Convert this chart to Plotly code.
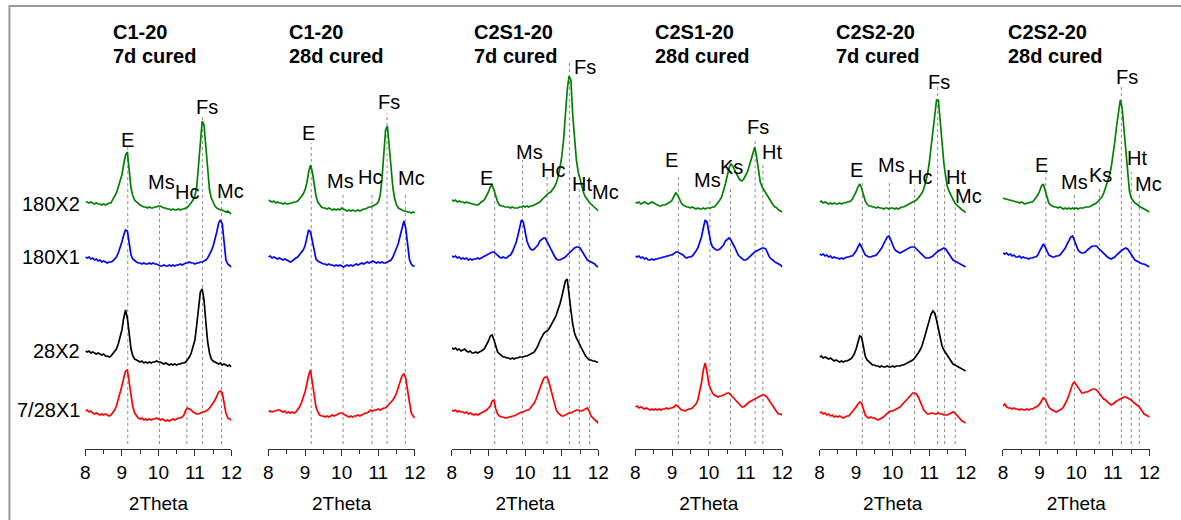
import numpy as np
import plotly.graph_objects as go

# ---------------------------------------------------------------------------
# Data: XRD intensities (arbitrary counts above a common baseline) sampled every
# 0.05 deg 2-theta between 8 and 12 deg, for each binder / curing age / sample.
# ---------------------------------------------------------------------------
TWO_THETA = np.round(np.arange(8.0, 12.0001, 0.05), 2)

ROWS = ["180X2", "180X1", "28X2", "7/28X1"]

TITLE_MIX = ["C1-20", "C1-20", "C2S1-20", "C2S1-20", "C2S2-20", "C2S2-20"]
TITLE_AGE = ["7d cured", "28d cured", "7d cured", "28d cured", "7d cured", "28d cured"]

# ---- C1-20, 7d cured
C1_7D_180X2 = [17, 17, 16, 17, 16, 15, 16, 15, 15, 14,
               15, 14, 15, 16, 16, 19, 22, 26, 32, 39,
               44, 55, 64, 67, 50, 31, 23, 19, 17, 15,
               14, 13, 12, 12, 11, 12, 11, 11, 12, 12,
               13, 13, 12, 11, 11, 10, 10, 9, 10, 9,
               9, 10, 9, 10, 10, 11, 12, 14, 16, 19,
               23, 32, 54, 79, 98, 94, 71, 47, 29, 21,
               16, 13, 11, 10, 9, 9, 8, 7, 8, 6,
               5]
C1_7D_180X1 = [17, 16, 17, 15, 16, 14, 15, 13, 14, 12,
               13, 12, 11, 12, 12, 13, 15, 17, 21, 26,
               32, 39, 44, 43, 29, 19, 15, 13, 12, 11,
               11, 10, 11, 10, 10, 11, 10, 11, 10, 10,
               9, 8, 8, 9, 8, 8, 9, 8, 9, 8,
               9, 9, 10, 9, 10, 11, 11, 12, 11, 11,
               10, 11, 11, 12, 12, 13, 14, 16, 19, 23,
               28, 34, 42, 51, 54, 50, 30, 14, 10, 8,
               7]
C1_7D_28X2 = [28, 27, 28, 26, 27, 26, 25, 26, 25, 24,
              25, 23, 23, 22, 23, 25, 27, 30, 35, 41,
              49, 61, 69, 61, 44, 30, 23, 20, 19, 18,
              17, 18, 16, 17, 16, 17, 16, 17, 17, 18,
              17, 17, 16, 15, 16, 15, 14, 15, 14, 15,
              14, 15, 15, 16, 16, 17, 19, 22, 26, 32,
              39, 54, 74, 87, 90, 79, 57, 37, 26, 20,
              18, 17, 16, 15, 16, 14, 15, 14, 13, 14,
              12]
C1_7D_728X1 = [18, 19, 17, 18, 16, 15, 16, 15, 14, 15,
               14, 15, 14, 13, 14, 16, 19, 23, 29, 36,
               43, 51, 58, 59, 47, 33, 22, 16, 13, 11,
               10, 11, 9, 10, 9, 10, 9, 10, 10, 11,
               10, 9, 10, 9, 8, 9, 8, 9, 10, 9,
               10, 11, 11, 12, 14, 19, 21, 20, 19, 17,
               16, 15, 15, 16, 17, 17, 18, 19, 21, 23,
               26, 29, 33, 37, 38, 36, 26, 16, 11, 10,
               9]

# ---- C1-20, 28d cured
C1_28D_180X2 = [19, 18, 17, 18, 16, 17, 16, 16, 15, 16,
                15, 15, 16, 16, 17, 17, 18, 20, 22, 25,
                29, 36, 47, 54, 47, 33, 23, 17, 14, 12,
                11, 11, 10, 11, 10, 9, 10, 9, 10, 9,
                11, 10, 9, 8, 9, 8, 9, 8, 8, 9,
                8, 9, 10, 10, 11, 12, 12, 13, 14, 15,
                17, 23, 39, 64, 89, 93, 74, 51, 31, 20,
                14, 11, 10, 9, 8, 8, 7, 7, 6, 7,
                6]
C1_28D_180X1 = [17, 18, 16, 17, 16, 15, 16, 15, 14, 15,
                14, 13, 12, 13, 15, 16, 17, 19, 21, 24,
                28, 36, 44, 42, 32, 21, 15, 13, 12, 11,
                10, 10, 9, 10, 9, 9, 8, 9, 8, 9,
                8, 7, 8, 9, 8, 9, 8, 9, 10, 9,
                10, 11, 10, 11, 12, 11, 12, 13, 12, 11,
                12, 11, 12, 11, 11, 12, 13, 14, 17, 21,
                26, 31, 38, 47, 53, 46, 30, 15, 10, 8,
                8]
C1_28D_728X1 = [17, 18, 17, 18, 18, 19, 19, 18, 17, 18,
                16, 17, 16, 17, 16, 17, 19, 22, 26, 31,
                37, 45, 54, 59, 48, 33, 22, 17, 14, 13,
                13, 12, 13, 12, 13, 14, 13, 14, 15, 16,
                16, 15, 14, 13, 12, 13, 12, 13, 13, 14,
                13, 14, 15, 16, 16, 18, 19, 18, 19, 19,
                20, 19, 20, 21, 21, 23, 24, 26, 29, 32,
                36, 42, 48, 53, 55, 51, 39, 25, 16, 13,
                11]

# ---- C2S1-20, 7d cured
C2S1_7D_180X2 = [19, 18, 19, 17, 18, 17, 17, 16, 17, 16,
                 16, 15, 15, 14, 14, 15, 17, 18, 20, 23,
                 27, 32, 34, 29, 22, 17, 14, 13, 13, 12,
                 12, 12, 11, 12, 11, 11, 11, 12, 12, 13,
                 12, 13, 12, 13, 13, 14, 15, 16, 17, 19,
                 21, 23, 24, 26, 27, 29, 32, 36, 42, 51,
                 62, 79, 104, 129, 143, 139, 104, 79, 59, 47,
                 39, 32, 26, 22, 19, 17, 15, 13, 11, 9,
                 8]
C2S1_7D_180X1 = [18, 17, 18, 16, 17, 15, 16, 15, 16, 14,
                 15, 14, 15, 15, 16, 15, 16, 17, 18, 19,
                 20, 21, 22, 22, 20, 18, 17, 16, 17, 16,
                 16, 18, 19, 22, 26, 31, 38, 47, 54, 52,
                 41, 33, 28, 25, 24, 25, 27, 29, 33, 35,
                 36, 36, 33, 29, 25, 21, 18, 15, 14, 14,
                 15, 16, 17, 19, 21, 23, 24, 26, 27, 27,
                 26, 23, 20, 17, 14, 13, 12, 11, 10, 8,
                 7]
C2S1_7D_28X2 = [31, 30, 31, 29, 30, 28, 29, 30, 28, 27,
                28, 26, 26, 27, 26, 27, 28, 29, 31, 34,
                38, 43, 44, 39, 32, 27, 25, 23, 22, 22,
                21, 21, 20, 21, 20, 21, 21, 22, 22, 22,
                23, 23, 24, 25, 26, 27, 30, 33, 38, 42,
                45, 47, 48, 50, 53, 56, 60, 64, 69, 75,
                82, 90, 98, 100, 87, 69, 55, 46, 41, 38,
                34, 30, 26, 23, 21, 19, 19, 18, 18, 17,
                17]
C2S1_7D_728X1 = [19, 18, 19, 17, 18, 17, 17, 16, 17, 15,
                 16, 15, 14, 15, 14, 15, 16, 17, 18, 19,
                 21, 23, 28, 29, 20, 15, 13, 12, 12, 11,
                 11, 12, 12, 13, 13, 14, 15, 16, 17, 17,
                 18, 19, 19, 21, 23, 26, 30, 35, 41, 46,
                 50, 52, 52, 47, 40, 32, 25, 19, 16, 14,
                 13, 13, 14, 15, 16, 16, 17, 18, 19, 19,
                 18, 18, 19, 20, 21, 18, 13, 11, 9, 8,
                 6]

# ---- C2S1-20, 28d cured
C2S1_28D_180X2 = [17, 16, 17, 15, 16, 17, 16, 15, 16, 17,
                  16, 15, 14, 13, 13, 14, 14, 15, 16, 17,
                  19, 22, 26, 24, 19, 16, 14, 13, 12, 12,
                  11, 12, 11, 10, 11, 10, 10, 11, 10, 11,
                  11, 11, 12, 12, 14, 16, 19, 22, 28, 35,
                  43, 51, 55, 53, 49, 45, 42, 39, 38, 40,
                  43, 47, 53, 60, 67, 72, 62, 47, 37, 32,
                  29, 25, 22, 19, 16, 14, 12, 11, 9, 8,
                  7]
C2S1_28D_180X1 = [18, 17, 18, 16, 17, 15, 16, 14, 14, 15,
                  14, 15, 15, 16, 16, 17, 17, 18, 18, 19,
                  19, 21, 22, 22, 21, 20, 19, 17, 16, 17,
                  17, 18, 20, 23, 26, 31, 37, 46, 54, 52,
                  41, 32, 27, 25, 24, 24, 25, 27, 29, 33,
                  35, 36, 34, 31, 27, 23, 19, 17, 15, 14,
                  14, 15, 17, 19, 20, 22, 23, 24, 25, 26,
                  26, 25, 21, 17, 15, 13, 12, 11, 10, 9,
                  7]
C2S1_28D_728X1 = [22, 23, 21, 22, 21, 20, 21, 20, 19, 20,
                  19, 20, 19, 20, 19, 20, 20, 21, 20, 21,
                  21, 22, 24, 23, 21, 19, 19, 18, 19, 20,
                  20, 21, 23, 25, 29, 36, 46, 59, 66, 57,
                  45, 40, 36, 34, 33, 32, 33, 33, 34, 35,
                  36, 36, 34, 32, 30, 27, 25, 23, 22, 22,
                  24, 26, 27, 28, 29, 30, 31, 32, 33, 34,
                  34, 33, 31, 28, 25, 22, 19, 17, 15, 15,
                  14]

# ---- C2S2-20, 7d cured
C2S2_7D_180X2 = [17, 18, 16, 17, 16, 15, 16, 15, 16, 15,
                 15, 16, 15, 16, 16, 17, 17, 18, 20, 23,
                 27, 32, 35, 31, 24, 18, 15, 13, 13, 12,
                 12, 11, 12, 11, 11, 10, 11, 11, 10, 11,
                 11, 10, 11, 10, 11, 12, 12, 13, 14, 15,
                 16, 17, 18, 19, 21, 23, 26, 30, 36, 44,
                 56, 71, 89, 107, 119, 119, 97, 74, 56, 42,
                 32, 27, 23, 19, 16, 14, 12, 11, 9, 8,
                 6]
C2S2_7D_180X1 = [20, 19, 20, 18, 19, 17, 18, 16, 17, 16,
                 16, 15, 16, 15, 16, 17, 17, 18, 18, 20,
                 23, 27, 30, 27, 22, 19, 18, 17, 17, 18,
                 18, 19, 21, 23, 26, 30, 34, 37, 38, 34,
                 29, 25, 23, 22, 21, 22, 23, 24, 25, 26,
                 27, 27, 27, 25, 23, 21, 19, 17, 16, 16,
                 16, 17, 18, 20, 22, 23, 24, 25, 26, 25,
                 22, 19, 16, 14, 13, 12, 11, 10, 9, 8,
                 7]
C2S2_7D_28X2 = [22, 23, 21, 22, 21, 20, 21, 19, 18, 19,
                18, 17, 18, 17, 18, 18, 19, 20, 22, 25,
                30, 37, 43, 42, 32, 23, 19, 17, 15, 14,
                14, 13, 13, 12, 13, 12, 12, 13, 12, 12,
                13, 12, 13, 13, 13, 14, 14, 15, 16, 17,
                18, 19, 21, 23, 26, 29, 33, 39, 46, 53,
                59, 65, 68, 66, 59, 49, 39, 33, 29, 26,
                23, 20, 17, 15, 14, 13, 12, 11, 10, 9,
                8]
C2S2_7D_728X1 = [16, 17, 15, 16, 14, 15, 13, 14, 12, 13,
                 12, 13, 12, 11, 12, 13, 13, 15, 17, 19,
                 22, 25, 27, 26, 19, 14, 12, 11, 12, 11,
                 11, 10, 9, 10, 11, 12, 14, 16, 17, 18,
                 18, 19, 20, 21, 22, 24, 26, 28, 30, 32,
                 34, 36, 36, 35, 32, 28, 23, 19, 17, 15,
                 15, 16, 16, 15, 15, 16, 15, 15, 14, 14,
                 14, 15, 16, 17, 16, 14, 11, 9, 8, 7,
                 6]

# ---- C2S2-20, 28d cured
C2S2_28D_180X2 = [21, 20, 20, 19, 19, 18, 18, 17, 17, 16,
                  17, 16, 15, 16, 16, 17, 17, 19, 21, 24,
                  28, 33, 35, 29, 21, 16, 14, 13, 12, 12,
                  11, 12, 11, 10, 11, 10, 11, 10, 11, 10,
                  11, 10, 11, 11, 11, 12, 12, 12, 13, 14,
                  15, 16, 18, 20, 22, 26, 31, 36, 43, 51,
                  63, 77, 93, 109, 119, 111, 89, 64, 42, 28,
                  21, 18, 16, 15, 13, 12, 11, 10, 9, 8,
                  7]
C2S2_28D_180X1 = [21, 20, 21, 19, 20, 18, 19, 17, 17, 18,
                  16, 17, 16, 16, 15, 16, 16, 17, 17, 19,
                  23, 27, 30, 27, 22, 19, 18, 17, 17, 18,
                  18, 19, 21, 23, 26, 30, 34, 37, 38, 33,
                  27, 24, 22, 21, 21, 22, 24, 26, 27, 28,
                  28, 28, 26, 24, 22, 20, 19, 17, 16, 15,
                  16, 17, 19, 21, 23, 24, 25, 26, 25, 22,
                  19, 16, 14, 13, 12, 11, 10, 10, 9, 8,
                  7]
C2S2_28D_728X1 = [23, 25, 22, 21, 21, 20, 21, 20, 20, 19,
                  20, 19, 19, 20, 19, 20, 20, 21, 22, 23,
                  25, 28, 31, 30, 26, 22, 20, 19, 18, 17,
                  18, 19, 20, 22, 25, 29, 34, 40, 45, 47,
                  44, 41, 38, 36, 36, 37, 37, 38, 39, 40,
                  40, 39, 37, 34, 32, 30, 29, 27, 25, 24,
                  25, 27, 28, 29, 30, 31, 32, 32, 31, 30,
                  29, 27, 25, 24, 23, 20, 17, 15, 14, 13,
                  12]

# curves per panel, in ROWS order (None: not measured)
PANEL_CURVES = [
    [C1_7D_180X2, C1_7D_180X1, C1_7D_28X2, C1_7D_728X1],
    [C1_28D_180X2, C1_28D_180X1, None, C1_28D_728X1],
    [C2S1_7D_180X2, C2S1_7D_180X1, C2S1_7D_28X2, C2S1_7D_728X1],
    [C2S1_28D_180X2, C2S1_28D_180X1, None, C2S1_28D_728X1],
    [C2S2_7D_180X2, C2S2_7D_180X1, C2S2_7D_28X2, C2S2_7D_728X1],
    [C2S2_28D_180X2, C2S2_28D_180X1, None, C2S2_28D_728X1],
]

# phase reflections marked in each panel (2-theta, deg)
PEAK_NAMES = [
    ["E", "Ms", "Hc", "Fs", "Mc"],
    ["E", "Ms", "Hc", "Fs", "Mc"],
    ["E", "Ms", "Hc", "Fs", "Ht", "Mc"],
    ["E", "Ms", "Ks", "Fs", "Ht"],
    ["E", "Ms", "Hc", "Fs", "Ht", "Mc"],
    ["E", "Ms", "Ks", "Fs", "Ht", "Mc"],
]
PEAK_POS = [
    [9.16, 10.03, 10.78, 11.21, 11.73],
    [9.17, 10.04, 10.83, 11.24, 11.74],
    [9.17, 9.93, 10.60, 11.21, 11.48, 11.76],
    [9.17, 10.03, 10.59, 11.26, 11.47],
    [9.17, 9.91, 10.60, 11.23, 11.42, 11.71],
    [9.17, 9.95, 10.63, 11.23, 11.50, 11.72],
]

# ---------------------------------------------------------------------------
# Layout / styling
# ---------------------------------------------------------------------------
W, H = 1181, 520
AXIS_ROW = 449              # pixel row of the 2-theta axes
FONT = "Liberation Sans, Arial, sans-serif"
INK = "#333333"

ROW_OFFSET = [230, 175, 70, 20]
ROW_COLOR = ["#008000", "#0000ff", "#000000", "#ff0000"]
ROW_LABEL_Y = [204, 257, 351, 410]

PANEL_X0 = [81.5, 267.0, 453.0, 639.0, 825.7, 1011.7]
PANEL_X1 = [229.5, 415.5, 601.5, 788.0, 974.0, 1160.3]
TITLE_X = [107, 286, 473, 657, 840, 1015]

# per panel, per marker: (label x in 2-theta, extra shift px, label centre row px,
#                         dotted line top row px)
LABEL_PLACE = [
    [(9.16, 0, 140, 147), (10.08, 0, 182, 202), (10.79, 0, 192, 200),
     (11.32, 0, 107, 117), (11.97, 0, 191, 200)],
    [(9.10, 0, 133, 143), (9.97, 0, 181, 195), (10.78, 0, 177, 195),
     (11.30, 0, 102, 113), (11.91, 0, 178, 193)],
    [(8.94, 0, 178, 190), (10.12, 0, 152, 160), (10.76, 0, 170, 177),
     (11.64, 0, 67, 60), (11.55, 0, 184, 187), (11.99, 8, 192, 198)],
    [(8.99, 0, 160, 175), (9.97, 0, 180, 198), (10.63, 0, 167, 187),
     (11.34, 0, 127, 140), (11.73, 0, 152, 162)],
    [(9.00, 0, 170, 180), (9.98, 0, 165, 180), (10.74, 0, 177, 185),
     (11.26, 0, 82, 87), (11.74, 0, 177, 185), (11.99, 3, 196, 203)],
    [(9.06, 0, 165, 172), (9.96, 0, 182, 195), (10.65, 0, 175, 187),
     (11.39, 0, 77, 85), (11.67, 0, 158, 172), (11.98, 0, 184, 195)],
]
LINE_BOTTOM = 444


def ypx(row):
    """Convert a pixel row into the plot's vertical units (1 unit = 1 px)."""
    return AXIS_ROW - row


fig = go.Figure()
layout = dict(
    width=W, height=H,
    margin=dict(l=0, r=0, t=0, b=0),
    paper_bgcolor="white", plot_bgcolor="white",
    showlegend=False,
    font=dict(family=FONT, color="black"),
)
annotations = []
shapes = []

y_dom = [(H - AXIS_ROW) / H, 1.0]

for p in range(6):
    n = "" if p == 0 else str(p + 1)
    xa, ya = "x" + n, "y" + n

    layout["xaxis" + n] = dict(
        domain=[PANEL_X0[p] / W, PANEL_X1[p] / W],
        range=[8, 12], anchor=ya,
        tickmode="array", tickvals=[8, 9, 10, 11, 12],
        ticks="outside", ticklen=6, tickwidth=1, tickcolor=INK,
        showline=True, linecolor=INK, linewidth=1,
        minor=dict(tickmode="array", tickvals=[8.5, 9.5, 10.5, 11.5],
                   ticks="outside", ticklen=4, tickwidth=1, tickcolor=INK,
                   showgrid=False),
        tickfont=dict(size=19, family=FONT, color="black"),
        ticklabelstandoff=0,
        showgrid=False, zeroline=False, fixedrange=True,
        title=dict(text="2Theta", font=dict(size=19, family=FONT, color="black"),
                   standoff=14),
    )
    layout["yaxis" + n] = dict(
        domain=y_dom, range=[0, AXIS_ROW], anchor=xa, visible=False, fixedrange=True,
    )

    for r, curve in enumerate(PANEL_CURVES[p]):
        if curve is None:
            continue
        fig.add_trace(go.Scatter(
            x=TWO_THETA, y=np.asarray(curve) + ROW_OFFSET[r],
            mode="lines", line=dict(color=ROW_COLOR[r], width=1.7),
            xaxis=xa, yaxis=ya, name=f"{TITLE_MIX[p]} {TITLE_AGE[p]} {ROWS[r]}",
            hoverinfo="skip",
        ))

    for name, pos, (lx, dx, ly, top) in zip(PEAK_NAMES[p], PEAK_POS[p], LABEL_PLACE[p]):
        shapes.append(dict(
            type="line", xref=xa, yref=ya, x0=pos, x1=pos,
            y0=ypx(LINE_BOTTOM), y1=ypx(top), layer="below",
            line=dict(color="#8c8c8c", width=1, dash="dot"),
        ))
        annotations.append(dict(
            xref=xa, yref=ya, x=lx, y=ypx(ly), xshift=dx, text=name, showarrow=False,
            xanchor="center", yanchor="middle",
            font=dict(size=20, family=FONT, color="black"),
        ))

    for txt, row in ((TITLE_MIX[p], 32), (TITLE_AGE[p], 56)):
        annotations.append(dict(
            xref="paper", yref="paper", x=TITLE_X[p] / W, y=1 - row / H,
            text=f"<b>{txt}</b>", showarrow=False, xanchor="left", yanchor="middle",
            font=dict(size=20, family=FONT, color="black"),
        ))

for label, row in zip(ROWS, ROW_LABEL_Y):
    annotations.append(dict(
        xref="paper", yref="paper", x=78 / W, y=1 - row / H, text=label,
        showarrow=False, xanchor="right", yanchor="middle",
        font=dict(size=20, family=FONT, color="black"),
    ))

# outer frame: only its left and top edges fall inside the figure
shapes.append(dict(type="rect", xref="paper", yref="paper",
                   x0=4.5 / W, x1=1.05, y0=-0.05, y1=1 - 6 / H,
                   line=dict(color="#9a9a9a", width=2), fillcolor="rgba(0,0,0,0)",
                   layer="below"))

layout["annotations"] = annotations
layout["shapes"] = shapes
fig.update_layout(**layout)

# keep the page flush with the figure (no body margin, no scrollbars)
PAGE_FIT = ("document.documentElement.style.overflow='hidden';"
            "document.body.style.margin='0';document.body.style.overflow='hidden';")

fig.write_html("out.html", config={"displayModeBar": False}, post_script=PAGE_FIT)
